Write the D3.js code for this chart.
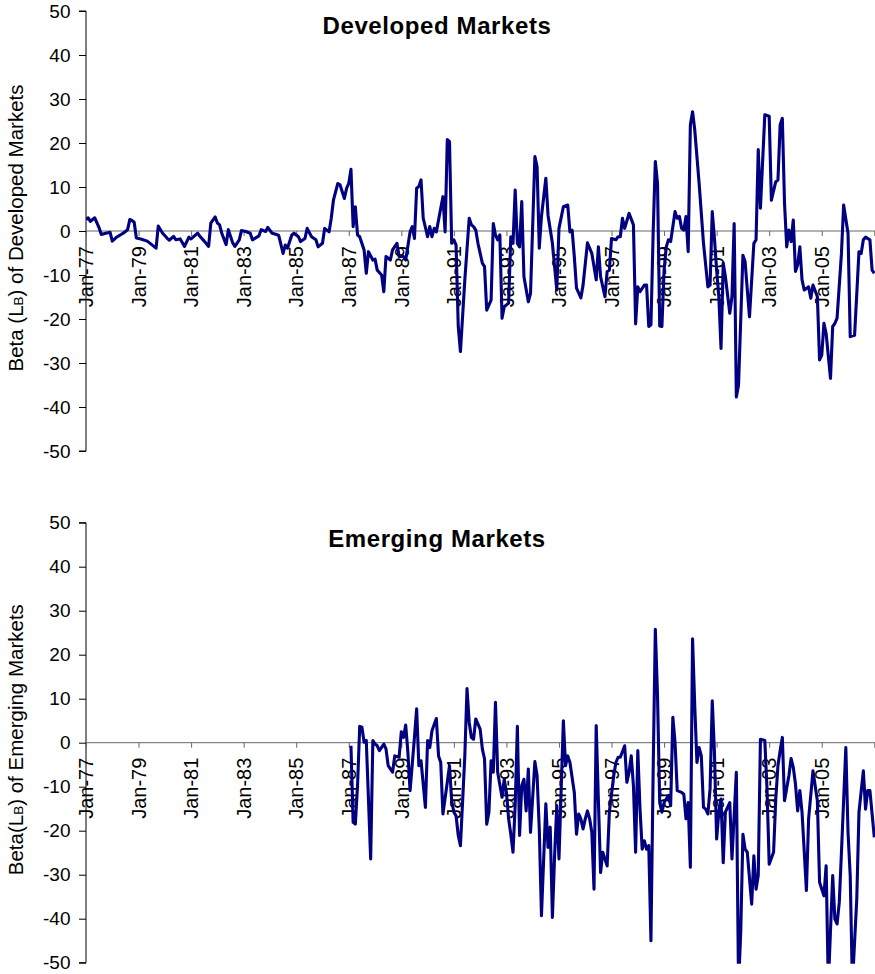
<!DOCTYPE html>
<html>
<head>
<meta charset="utf-8">
<script src="https://cdn.jsdelivr.net/npm/d3@7"></script>
<style>
  html, body { margin: 0; padding: 0; background: #fff; }
  svg { display: block; font-family: "Liberation Sans", Arial, sans-serif; }
</style>
</head>
<body>
<svg id="chart" width="875" height="974"></svg>
<script>
// ---------- data (month index counted from Jan-77 = 0) ----------
const tickLabels = ["Jan-77","Jan-79","Jan-81","Jan-83","Jan-85","Jan-87","Jan-89","Jan-91","Jan-93","Jan-95","Jan-97","Jan-99","Jan-01","Jan-03","Jan-05"];
const yTicks = [50,40,30,20,10,0,-10,-20,-30,-40,-50];

const devMonth = [0,1,2,3,4,6,7,9,11,12,14,16,17,18,19,20,21,22,23,25,28,30,32,33,35,37,38,40,41,43,45,47,48,51,52,54,56,57,59,60,61,62,64,65,67,68,70,71,73,75,76,79,80,82,83,85,87,
  88,90,91,92,94,95,97,98,100,101,103,105,106,108,109,111,112,113,115,116,118,119,120,121,122,123,124,125,127,128,129,131,132,133,135,136,137,139,140,142,143,145,146,148,149,150,151,152,153,154,156,157,158,159,160,161,163,164,165,166,167,168,169,170,171,173,175,176,177,178,179,181,182,183,185,186,187,188,189,190,191,193,194,195,196,197,198,199,200,202,203,205,206,207,208,210,211,213,214,215,216,218,220,221,222,223,224,
  226,227,229,231,233,234,235,237,238,239,240,242,243,244,245,246,248,250,251,252,253,255,256,257,258,259,260,261,262,263,264,265,266,267,269,270,271,272,273,274,275,276,277,278,280,282,284,285,286,287,288,289,290,291,292,294,295,296,297,298,300,301,302,303,305,306,307,308,310,312,313,315,316,317,318,319,320,321,322,323,324,325,326,327,328,330,331,332,334,335,336,337,338,340,341,342,343,345,346,348,349,351,353,354,355,356,358,359,360];
const devBeta = [2.6,3.0,2.2,2.6,3.0,0.7,-0.8,-0.5,-0.3,-2.3,-1.4,-0.8,-0.5,-0.1,0.3,2.6,2.4,2.0,-1.6,-1.8,-2.3,-3.1,-3.9,1.1,-0.5,-1.6,-2.1,-1.2,-2.0,-1.8,-3.5,-1.4,-1.8,-0.5,-1.2,-2.3,-3.5,1.8,3.2,1.8,1.4,-0.5,-3.1,0.3,-2.7,-3.5,-2.0,0.1,-0.1,-0.5,-2.0,-1.1,0.3,-0.1,0.8,-0.5,-0.8,
  -1.0,-5.1,-3.2,-3.9,-0.9,-0.5,-1.3,-2.4,-1.7,0.6,-1.3,-2.0,-3.6,-2.8,0.6,-0.2,2.9,7.0,10.8,10.5,7.4,9.7,10.8,14.0,1.0,5.5,-0.9,-1.3,-4.3,-9.6,-4.7,-6.6,-6.4,-8.9,-10.0,-13.8,-5.8,-6.6,-4.3,-2.8,-5.8,-5.8,-6.6,-0.2,1.0,-1.7,9.7,10.1,11.6,2.9,-1.3,1.0,-1.3,0.6,-0.2,2.5,7.8,-0.2,20.8,20.3,-2.8,-2.0,-3.2,-21.7,-27.4,-11.1,2.9,1.4,1.0,0.2,-2.8,-7.3,-8.1,-18.0,-15.7,1.7,-0.9,-2.0,-0.9,-19.8,-17.2,-16.4,-1.3,-2.8,9.3,-2.8,-3.6,6.7,-10.4,-16.1,-14.2,16.9,14.6,-3.9,3.3,12.0,3.6,-2.8,-8.1,-13.4,0.6,5.5,5.9,-0.2,0.2,-5.8,-13.0,
  -15.2,-12.3,-2.7,-5.1,-11.1,-3.6,-10.4,-14.9,-9.2,-8.9,-1.7,-2.0,-1.3,-1.3,2.9,0.6,4.0,1.4,-21.1,-12.7,-13.8,-12.3,-12.3,-21.7,-21.3,-0.5,15.8,10.8,-21.6,-21.7,-8.9,-3.6,-2.0,-2.4,4.4,2.9,3.3,0.6,0.2,3.3,-4.7,24.1,27.1,23.0,10.8,-2.8,-12.7,-12.3,4.4,-1.7,-8.9,-14.9,-26.7,-7.3,-10.4,-18.7,-14.9,1.7,-37.7,-35.0,-5.5,-7.0,-13.4,-19.5,-2.8,-2.0,18.5,5.2,26.4,26.1,7.0,11.2,11.6,24.1,25.6,6.3,-3.6,0.2,-2.4,2.5,-9.2,-7.7,-3.6,-11.1,-13.4,-12.7,-15.3,-12.3,-14.9,-29.3,-28.2,-21.0,-23.3,-33.5,-21.7,-21.0,-19.8,-5.1,5.9,-0.5,-24.0,-23.7,-4.7,-5.1,-2.0,-1.4,-2.0,-8.9,-9.6];

const emgMonth = [121,122,123,124,125,126,127,128,130,131,132,133,134,136,137,138,140,141,143,144,145,146,147,148,150,151,152,153,155,156,157,158,160,161,162,163,165,166,167,168,169,170,171,173,174,175,176,177,178,180,181,182,183,184,185,186,187,188,190,191,192,193,194,195,196,197,198,199,200,201,202,203,205,206,207,208,210,211,212,213,214,215,216,218,219,220,221,223,224,225,226,227,228,229,230,231,232,233,234,235,236,
  238,239,241,242,243,244,246,247,248,249,250,251,252,253,254,255,256,257,258,259,260,261,262,263,264,266,267,268,269,270,272,273,274,275,276,277,278,279,280,281,282,283,284,285,286,287,288,289,290,291,292,294,295,297,298,299,300,301,302,304,305,306,307,308,310,311,312,314,315,316,317,318,319,321,322,323,324,325,326,327,329,330,332,333,334,335,337,338,339,341,342,343,344,345,347,348,349,350,352,353,355,356,357,358,360];
const emgBeta = [-0.7,-18.1,-18.5,-9.8,3.7,3.5,0.1,0.5,-26.4,0.5,-0.3,-0.7,-1.8,-0.3,-1.4,-5.2,-6.7,-3.0,-3.3,2.5,1.2,4.0,-2.2,-10.9,1.2,7.7,-5.2,-4.1,-14.7,0.5,-1.1,2.7,5.5,-3.0,-4.5,-16.2,-9.0,-5.2,-13.2,-15.8,-16.6,-21.1,-23.4,-3.0,12.3,4.6,1.2,0.8,5.4,3.1,-1.4,-3.7,-18.5,-15.8,-4.1,-6.7,9.2,-6.7,-12.4,-8.3,-11.3,-17.3,-20.8,-24.9,-14.3,3.7,-21.1,-9.8,-8.3,-15.5,-6.0,-20.4,-4.3,-7.5,-19.6,-39.3,-13.9,-23.8,-19.2,-39.7,-25.7,-14.3,-26.4,5.0,-5.2,-3.0,-4.5,-11.3,-20.8,-16.2,-17.3,-19.6,-17.3,-15.5,-17.3,-20.4,-33.3,3.9,-13.2,-29.5,-24.9,
  -28.0,-15.8,-7.5,-4.5,-3.3,-3.3,-0.7,-9.0,-6.7,-3.0,-9.8,-24.9,-1.8,-15.0,-24.2,-22.3,-24.2,-23.4,-45.0,-6.7,25.8,10.7,-13.6,-15.8,-13.6,-12.0,-14.3,5.8,0.1,-10.9,-11.3,-11.7,-17.3,-13.6,-28.3,23.6,8.4,-4.5,-1.1,-3.0,-14.7,-15.1,-16.2,-10.5,9.5,-2.2,-21.9,-15.8,-12.8,-27.3,-15.8,-13.6,-26.4,-6.7,-55.0,-43.1,-20.8,-24.2,-24.9,-36.7,-25.7,-33.3,-30.2,0.8,0.5,-10.5,-27.6,-24.9,-12.8,-5.2,-1.8,1.2,-13.2,-7.5,-3.6,-5.6,-9.4,-15.5,-10.9,-15.8,-33.6,-17.3,-6.4,-9.8,-13.2,-31.7,-34.8,-28.0,-55.0,-30.2,-40.1,-41.2,-36.3,-24.9,-1.1,-20.4,-30.2,-55.0,-35.5,-15.8,-6.4,-15.1,-10.9,-10.9,-21.5];

// ---------- layout ----------
const svg = d3.select("#chart");
const FONT = '"Liberation Sans", Arial, sans-serif';
const left = 86, right = 874.3;
const x = d3.scaleLinear().domain([0, 360]).range([left, right]);

const panels = [
  { title: "Developed Markets", yLabel: ["Beta (L", "B", ") of Developed Markets"], top: 11, months: devMonth, values: devBeta, titleY: 34, id: "c1" },
  { title: "Emerging Markets", yLabel: ["Beta(L", "B", ") of Emerging Markets"], top: 522.7, months: emgMonth, values: emgBeta, titleY: 546.7, id: "c2" }
];

panels.forEach(p => {
  const plotH = 440;
  const y = d3.scaleLinear().domain([-50, 50]).range([p.top + plotH, p.top]);
  const g = svg.append("g");

  g.append("clipPath").attr("id", p.id)
    .append("rect").attr("x", left).attr("y", p.top - 1).attr("width", 875 - left).attr("height", plotH + 2);

  // y axis
  const yAxis = d3.axisLeft(y).tickValues(yTicks).tickSize(7).tickPadding(8).tickFormat(d => String(d));
  const ya = g.append("g").attr("transform", `translate(${left},0)`).call(yAxis);
  ya.select(".domain").attr("stroke", "#000").attr("stroke-width", 1).attr("d", `M-7,${y(50)}H0V${y(-50)}H-7`);
  ya.selectAll(".tick line").attr("stroke", "#000");
  ya.selectAll(".tick text").attr("font-family", FONT).attr("font-size", 19).attr("fill", "#000").attr("dx", "-0.5");

  // zero axis with category ticks
  const zeroY = y(0);
  const tickMonths = d3.range(0, 361, 24);
  const xa = d3.axisBottom(x).tickValues(tickMonths).tickSize(5).tickFormat("");
  const xg = g.append("g").attr("transform", `translate(0,${zeroY})`).call(xa);
  xg.select(".domain").attr("stroke", "#666").attr("stroke-width", 1).attr("d", `M${left},0H875`);
  xg.selectAll(".tick line").attr("stroke", "#666");

  // rotated category labels
  g.append("g").selectAll("text").data(tickLabels).join("text")
    .attr("transform", (d, i) => `translate(${x(i * 24)},${zeroY + 15}) rotate(-90)`)
    .attr("text-anchor", "end").attr("dy", "0.36em")
    .attr("font-family", FONT).attr("font-size", 20).attr("fill", "#000")
    .text(d => d);

  // series line
  const pts = p.months.map((m, i) => [m, p.values[i]]);
  g.append("path").datum(pts)
    .attr("clip-path", `url(#${p.id})`)
    .attr("fill", "none").attr("stroke", "#000080").attr("stroke-width", 3.1)
    .attr("stroke-linejoin", "round")
    .attr("d", d3.line().x(d => x(d[0])).y(d => y(d[1])));

  // title
  g.append("text").attr("x", 437).attr("y", p.titleY).attr("text-anchor", "middle")
    .attr("font-family", FONT).attr("font-size", 24).attr("font-weight", "bold")
    .attr("letter-spacing", 0.6).attr("fill", "#000").text(p.title);

  // y axis title
  const yt = g.append("text")
    .attr("transform", `translate(22.5,${p.top + plotH / 2 - 3}) rotate(-90)`)
    .attr("text-anchor", "middle").attr("font-family", FONT).attr("font-size", 20.5).attr("fill", "#000");
  yt.append("tspan").text(p.yLabel[0]);
  yt.append("tspan").attr("font-size", 13.5).text(p.yLabel[1]);
  yt.append("tspan").text(p.yLabel[2]);
});
</script>
</body>
</html>
